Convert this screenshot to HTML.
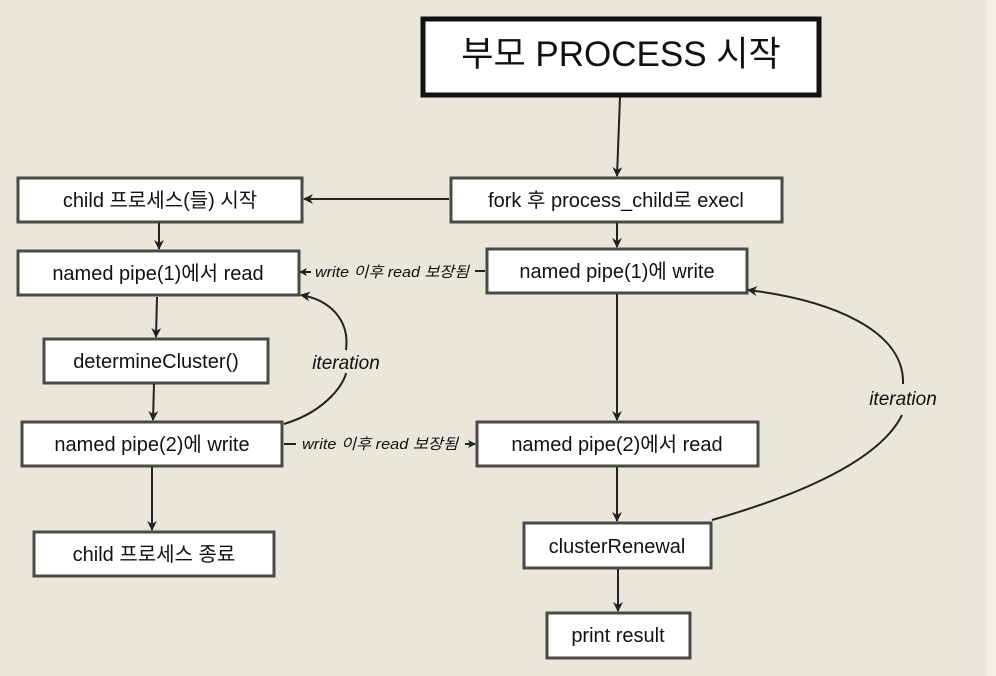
<!DOCTYPE html>
<html><head><meta charset="utf-8"><style>
html,body{margin:0;padding:0;width:996px;height:676px;overflow:hidden;background:#e9e6da;}
svg{display:block}
text{font-family:"Liberation Sans","Noto Sans CJK KR",sans-serif;fill:#111;}
</style></head><body>
<svg width="996" height="676" viewBox="0 0 996 676">
<defs><marker id="a" markerWidth="10" markerHeight="10" refX="9" refY="5" orient="auto" markerUnits="userSpaceOnUse"><path d="M0,0 L10,5 L0,10 L3,5z" fill="#222"/></marker>
<marker id="s" markerWidth="8" markerHeight="8" refX="7" refY="4" orient="auto" markerUnits="userSpaceOnUse"><path d="M0,0 L8,4 L0,8 L2,4z" fill="#222"/></marker></defs>
<rect x="986" y="0" width="10" height="676" fill="#f1efe8"/>
<g fill="#fff" stroke="#4a4a44" stroke-width="3">
<rect x="423" y="19" width="396" height="76" stroke="#111" stroke-width="5"/>
<rect x="451" y="178" width="331" height="44"/>
<rect x="18" y="178" width="284" height="44"/>
<rect x="18" y="251" width="281" height="44"/>
<rect x="487" y="249" width="260" height="44"/>
<rect x="44" y="339" width="224" height="44"/>
<rect x="22" y="422" width="260" height="44"/>
<rect x="477" y="422" width="281" height="44"/>
<rect x="34" y="532" width="240" height="44"/>
<rect x="524" y="523" width="187" height="45"/>
<rect x="547" y="613" width="143" height="45"/>
</g>
<g stroke="#222" stroke-width="2" fill="none">
<line x1="620" y1="97" x2="617" y2="176" marker-end="url(#a)"/>
<line x1="449" y1="199" x2="304" y2="199" marker-end="url(#a)"/>
<line x1="159" y1="223" x2="159" y2="249" marker-end="url(#a)"/>
<line x1="617" y1="223" x2="617" y2="247" marker-end="url(#a)"/>
<line x1="157" y1="297" x2="156" y2="337" marker-end="url(#a)"/>
<line x1="154" y1="384" x2="153" y2="420" marker-end="url(#a)"/>
<line x1="152" y1="467" x2="152" y2="530" marker-end="url(#a)"/>
<line x1="617" y1="294" x2="617" y2="420" marker-end="url(#a)"/>
<line x1="617" y1="467" x2="617" y2="521" marker-end="url(#a)"/>
<line x1="618" y1="569" x2="618" y2="611" marker-end="url(#a)"/>
<line x1="485" y1="271" x2="475" y2="271"/>
<line x1="311" y1="272" x2="300" y2="272" marker-end="url(#s)"/>
<line x1="284" y1="444" x2="296" y2="444"/>
<line x1="465" y1="444" x2="475" y2="444" marker-end="url(#s)"/>
<path d="M284,424 C330,410 345,380 346,373"/>
<path d="M346,350 C350,320 330,300 301,295" marker-end="url(#a)"/>
<path d="M712,520 C800,495 880,460 902,415"/>
<path d="M903,384 C905,330 830,300 748,290" marker-end="url(#a)"/>
</g>
<g text-anchor="middle" font-size="20">
<text x="621" y="66" font-size="35" fill="#2a2a2a">부모 PROCESS 시작</text>
<text x="616" y="207">fork 후 process_child로 execl</text>
<text x="160" y="207">child 프로세스(들) 시작</text>
<text x="158" y="280">named pipe(1)에서 read</text>
<text x="617" y="278">named pipe(1)에 write</text>
<text x="156" y="368">determineCluster()</text>
<text x="152" y="451">named pipe(2)에 write</text>
<text x="617" y="451">named pipe(2)에서 read</text>
<text x="154" y="561">child 프로세스 종료</text>
<text x="617" y="553">clusterRenewal</text>
<text x="618" y="642">print result</text>
</g>
<g font-style="italic" fill="#333" text-anchor="middle">
<text x="392" y="277" font-size="15" textLength="154" lengthAdjust="spacingAndGlyphs">write 이후 read 보장됨</text>
<text x="380" y="449" font-size="15" textLength="156" lengthAdjust="spacingAndGlyphs">write 이후 read 보장됨</text>
<text x="346" y="369" font-size="19" fill="#444">iteration</text>
<text x="903" y="405" font-size="19" fill="#444">iteration</text>
</g>
</svg>
</body></html>
